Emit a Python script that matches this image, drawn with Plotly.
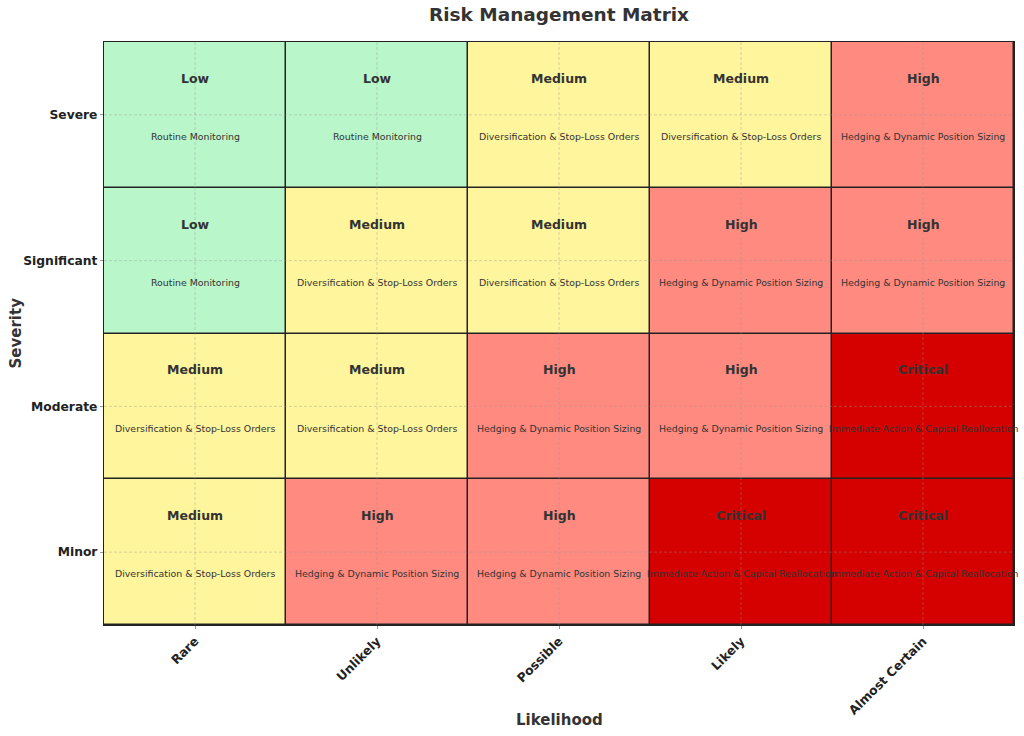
import plotly.graph_objects as go

likelihood = ["Rare", "Unlikely", "Possible", "Likely", "Almost Certain"]
severity = ["Minor", "Moderate", "Significant", "Severe"]  # bottom to top

risk_levels = ["Low", "Medium", "High", "Critical"]
level_colors = ["#b9f6ca", "#fff59d", "#ff8a80", "#d50000"]
actions = {
    "Low": "Routine Monitoring",
    "Medium": "Diversification & Stop-Loss Orders",
    "High": "Hedging & Dynamic Position Sizing",
    "Critical": "Immediate Action & Capital Reallocation",
}

# rows follow `severity` order (Minor -> Severe)
matrix = [
    ["Medium", "High", "High", "Critical", "Critical"],
    ["Medium", "Medium", "High", "High", "Critical"],
    ["Low", "Medium", "Medium", "High", "High"],
    ["Low", "Low", "Medium", "Medium", "High"],
]

FONT = "DejaVu Sans"
TXT = "#333333"

z = [[risk_levels.index(v) for v in row] for row in matrix]
n = len(risk_levels)
colorscale = []
for i, c in enumerate(level_colors):
    colorscale.append([i / n, c])
    colorscale.append([(i + 1) / n, c])

fig = go.Figure(go.Heatmap(
    z=z, x=list(range(len(likelihood))), y=list(range(len(severity))),
    colorscale=colorscale, zmin=-0.5, zmax=n - 0.5, showscale=False,
    xgap=1.5, ygap=1.5, hoverinfo="skip",
))

annotations = []
for r, row in enumerate(matrix):
    for c, lvl in enumerate(row):
        annotations.append(dict(x=c, y=r + 0.25, xref="x", yref="y", text="<b>" + lvl + "</b>",
                                showarrow=False, font=dict(family=FONT, size=12.5, color=TXT)))
        annotations.append(dict(x=c, y=r - 0.15, xref="x", yref="y", text=actions[lvl],
                                showarrow=False, font=dict(family=FONT, size=9.4, color=TXT)))

W, H = 1024, 736
ML, MR, MT, MB = 104, 10, 42, 111
pw, ph = W - ML - MR, H - MT - MB

# axis titles (pixel targets converted to paper coords)
annotations.append(dict(x=0.5, xref="paper", y=-(720 - (H - MB)) / ph, yref="paper", yanchor="middle",
                        xanchor="center", showarrow=False, text="<b>Likelihood</b>",
                        font=dict(family=FONT, size=15, color=TXT)))
annotations.append(dict(x=-(ML - 15) / pw, xref="paper", y=0.5, yref="paper", textangle=-90,
                        xanchor="center", yanchor="middle", showarrow=False, text="<b>Severity</b>",
                        font=dict(family=FONT, size=15, color=TXT)))

shapes = []
for i in range(len(likelihood)):
    shapes.append(dict(type="line", xref="x", yref="paper", x0=i, x1=i, y0=0, y1=1, layer="above",
                       line=dict(color="rgba(150,150,150,0.55)", width=0.7, dash="3px,2px")))
for j in range(len(severity)):
    shapes.append(dict(type="line", xref="paper", yref="y", x0=0, x1=1, y0=j, y1=j, layer="above",
                       line=dict(color="rgba(150,150,150,0.55)", width=0.7, dash="3px,2px")))

fig.update_layout(
    width=W, height=H,
    margin=dict(l=ML, r=MR, t=MT, b=MB, autoexpand=False),
    paper_bgcolor="white", plot_bgcolor="#222222",
    title=dict(text="<b>Risk Management Matrix</b>", x=0.5, xanchor="center", xref="paper",
               y=1 - 15 / H, yanchor="middle", yref="container",
               font=dict(family=FONT, size=18.5, color=TXT)),
    annotations=annotations, shapes=shapes,
    font=dict(family=FONT, color=TXT),
)
fig.update_xaxes(
    tickmode="array", tickvals=list(range(len(likelihood))),
    ticktext=["<b>" + t + "</b>" for t in likelihood], tickangle=-45,
    tickfont=dict(family=FONT, size=12.4, color="#222222"), automargin=False,
    range=[-0.5, len(likelihood) - 0.5], showgrid=False, zeroline=False,
    showline=True, linecolor="#222222", linewidth=1.2, mirror=True,
    ticks="outside", ticklen=3, tickcolor="#999999",
)
fig.update_yaxes(
    tickmode="array", tickvals=list(range(len(severity))),
    ticktext=["<b>" + t + "</b>" for t in severity], automargin=False,
    tickfont=dict(family=FONT, size=12.3, color="#222222"),
    range=[-0.5, len(severity) - 0.5], showgrid=False, zeroline=False,
    showline=True, linecolor="#222222", linewidth=1.2, mirror=True,
    ticks="outside", ticklen=3, tickcolor="#999999",
)

fig.write_html("out.html", config={"displayModeBar": False},
               post_script="document.body.style.margin='0';document.body.style.overflow='hidden';")
